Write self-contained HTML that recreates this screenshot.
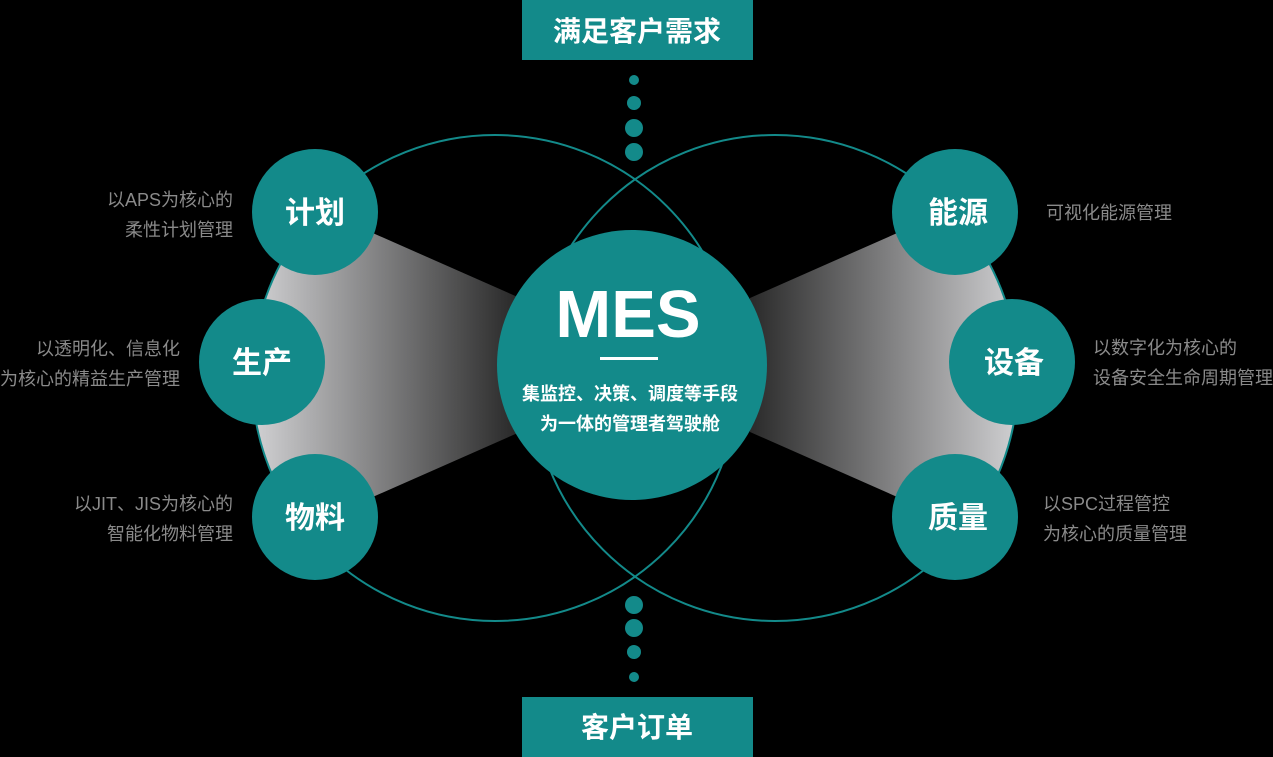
<!DOCTYPE html>
<html><head><meta charset="utf-8"><style>
html,body{margin:0;padding:0;background:#000;}
body{width:1273px;height:757px;overflow:hidden;position:relative;font-family:"Liberation Sans","Noto Sans CJK SC",sans-serif;}
.t{position:absolute;color:#8a8a8a;font-size:18px;line-height:30px;}
</style></head><body>
<svg width="1273" height="757" style="position:absolute;left:0;top:0">
<defs>
<linearGradient id="gl" x1="255" y1="0" x2="515" y2="0" gradientUnits="userSpaceOnUse"><stop offset="0" stop-color="#d0d0d2"/><stop offset="1" stop-color="#2a2a2a"/></linearGradient>
<linearGradient id="gr" x1="1018" y1="0" x2="750" y2="0" gradientUnits="userSpaceOnUse"><stop offset="0" stop-color="#d0d0d2"/><stop offset="1" stop-color="#2a2a2a"/></linearGradient>
<clipPath id="cl"><circle cx="495" cy="378" r="243"/></clipPath>
<clipPath id="cr"><circle cx="775" cy="378" r="243"/></clipPath>
</defs>
<polygon points="230,170 520,298 520,432 230,560" fill="url(#gl)" clip-path="url(#cl)"/>
<polygon points="1040,170 750,298 750,432 1040,560" fill="url(#gr)" clip-path="url(#cr)"/>
<circle cx="495" cy="378" r="243" fill="none" stroke="#138a8a" stroke-width="2"/>
<circle cx="775" cy="378" r="243" fill="none" stroke="#138a8a" stroke-width="2"/>
<g fill="#138a8a">
<circle cx="634" cy="80" r="5"/><circle cx="634" cy="103" r="7"/><circle cx="634" cy="128" r="9"/><circle cx="634" cy="152" r="9"/>
<circle cx="634" cy="605" r="9"/><circle cx="634" cy="628" r="9"/><circle cx="634" cy="652" r="7"/><circle cx="634" cy="677" r="5"/>
<circle cx="315" cy="212" r="63"/><circle cx="262" cy="362" r="63"/><circle cx="315" cy="517" r="63"/>
<circle cx="955" cy="212" r="63"/><circle cx="1012" cy="362" r="63"/><circle cx="955" cy="517" r="63"/>
<circle cx="632" cy="365" r="135"/>
<rect x="522" y="0" width="231" height="60"/><rect x="522" y="697" width="231" height="60"/>
</g>
<rect x="600" y="357" width="58" height="3" fill="#fff"/>
<g fill="#fff" font-family="Liberation Sans,Noto Sans CJK SC,sans-serif" font-weight="bold" text-anchor="middle">
<text x="637" y="41" font-size="28">满足客户需求</text>
<text x="637" y="737" font-size="28">客户订单</text>
<text x="315" y="223" font-size="30">计划</text>
<text x="262" y="373" font-size="30">生产</text>
<text x="315" y="528" font-size="30">物料</text>
<text x="958" y="223" font-size="30">能源</text>
<text x="1014" y="373" font-size="30">设备</text>
<text x="958" y="528" font-size="30">质量</text>
<text x="628" y="337" font-size="67">MES</text>
<text x="630" y="400" font-size="18">集监控、决策、调度等手段</text>
<text x="630" y="430" font-size="18">为一体的管理者驾驶舱</text>
</g>
</svg>
<div class="t" style="right:1040px;top:185px;text-align:right">以APS为核心的<br>柔性计划管理</div>
<div class="t" style="right:1093px;top:334px;text-align:right;white-space:nowrap">以透明化、信息化<br>为核心的精益生产管理</div>
<div class="t" style="right:1040px;top:489px;text-align:right;white-space:nowrap">以JIT、JIS为核心的<br>智能化物料管理</div>
<div class="t" style="left:1046px;top:198px">可视化能源管理</div>
<div class="t" style="left:1093px;top:333px;white-space:nowrap">以数字化为核心的<br>设备安全生命周期管理</div>
<div class="t" style="left:1043px;top:489px;white-space:nowrap">以SPC过程管控<br>为核心的质量管理</div>
</body></html>
